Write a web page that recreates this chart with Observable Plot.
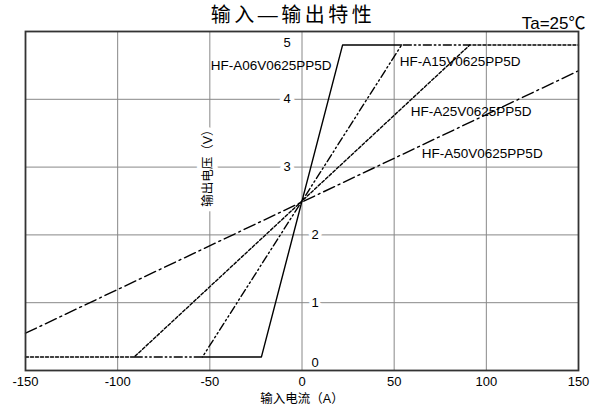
<!DOCTYPE html>
<html><head><meta charset="utf-8">
<script src="https://cdn.jsdelivr.net/npm/d3@7"></script>
<script src="https://cdn.jsdelivr.net/npm/@observablehq/plot@0.6"></script>
<style>body{margin:0;background:#fff}</style>
</head><body><div id="chart"></div>
<script>
const models = ["HF-A06V0625PP5D", "HF-A15V0625PP5D", "HF-A25V0625PP5D", "HF-A50V0625PP5D"];
const currentA06 = [-54, -22, 22, 54];
const voltA06 = [0.2, 0.2, 4.8, 4.8];
const currentA15 = [-91, -54, 54, 91];
const voltA15 = [0.2, 0.2, 4.8, 4.8];
const currentA25 = [-150, -91, 91, 150];
const voltA25 = [0.2, 0.2, 4.8, 4.8];
const currentA50 = [-150, 150];
const voltA50 = [0.55, 4.42];
const labelCurrent = [16, 53, 59, 65];
const labelVolt = [4.5, 4.55, 3.82, 3.2];
const xTicks = [-150, -100, -50, 0, 50, 100, 150];
const yTicks = [0, 1, 2, 3, 4, 5];
const xGrid = [-100, -50, 0, 50, 100];
const yGrid = [1, 2, 3, 4];
const title = "输入—输出特性";
const condition = "Ta=25℃";
const xTitle = "输入电流（A）";
const yTitle = "输出电压（V）";
const yTitleAt = {x: -51, y: 3.03};

const toRows = (xs, ys) => xs.map((x, i) => ({x, y: ys[i]}));
const sA06 = toRows(currentA06, voltA06);
const sA15 = toRows(currentA15, voltA15);
const sA25 = toRows(currentA25, voltA25);
const sA50 = toRows(currentA50, voltA50);
const labels = models.map((m, i) => ({name: m, x: labelCurrent[i], y: labelVolt[i]}));

const font = "'Liberation Sans', Arial, 'Noto Sans CJK SC', sans-serif";
const lineOpts = {x: "x", y: "y", stroke: "#000", strokeWidth: 1.4};

const chart = Plot.plot({
  width: 595,
  height: 410,
  marginLeft: 25,
  marginRight: 17,
  marginTop: 31,
  marginBottom: 40,
  style: {fontFamily: font, background: "#fff", color: "#000", overflow: "visible"},
  x: {domain: [-150, 150], axis: null},
  y: {domain: [0, 5], axis: null},
  marks: [
    Plot.ruleX(xGrid, {stroke: "#888", strokeWidth: 1}),
    Plot.ruleY(yGrid, {stroke: "#888", strokeWidth: 1}),
    Plot.axisX({ticks: xTicks, tickSize: 0, tickPadding: 6, fontSize: 13, label: null, tickFormat: d => String(d)}),
    Plot.text(yTicks.filter(v => v >= 1 && v <= 2), {x: () => 0, y: d => d, text: d => String(d), dx: 13, fontSize: 13, stroke: "#fff", strokeWidth: 8, fill: "#000"}),
    Plot.text(yTicks.filter(v => v >= 3 && v <= 4), {x: () => 0, y: d => d, text: d => String(d), dx: -15, fontSize: 13, stroke: "#fff", strokeWidth: 8, fill: "#000"}),
    Plot.text(yTicks.filter(v => v === 0), {x: () => 0, y: d => d, text: d => String(d), dx: 13, dy: -8, fontSize: 13, fill: "#000"}),
    Plot.text(yTicks.filter(v => v === 5), {x: () => 0, y: d => d, text: d => String(d), dx: -15, dy: 11, fontSize: 13, fill: "#000"}),
    Plot.text([yTitle], {x: () => yTitleAt.x, y: () => yTitleAt.y, text: d => d, rotate: -90, fontSize: 12.5, stroke: "#fff", strokeWidth: 10, fill: "#000"}),
    Plot.line(sA25, {...lineOpts, strokeDasharray: "3,2"}),
    Plot.line(sA15, {...lineOpts, strokeDasharray: "8,3,1.5,3,1.5,3"}),
    Plot.line(sA50, {...lineOpts, strokeDasharray: "12,4,2,4"}),
    Plot.line(sA06, {...lineOpts}),
    Plot.text(labels.slice(0, 1), {x: "x", y: "y", text: "name", textAnchor: "end", fontSize: 13.5, fill: "#000"}),
    Plot.text(labels.slice(1), {x: "x", y: "y", text: "name", textAnchor: "start", fontSize: 13.5, fill: "#000"}),
    Plot.text([xTitle], {x: () => 0, frameAnchor: "bottom", text: d => d, dy: 32, fontSize: 12.5, fill: "#000"}),
    Plot.text([title], {frameAnchor: "top", text: d => d, dx: -9, dy: -24, fontSize: 20, fill: "#000", className: "ttl"}),
    Plot.text([condition], {frameAnchor: "top-right", text: d => d, textAnchor: "end", dx: 7, dy: -15, fontSize: 17, fill: "#000"}),
    Plot.frame({stroke: "#333", strokeWidth: 1.8})
  ]
});
document.getElementById("chart").appendChild(chart);
d3.select(chart).selectAll("g.ttl text").style("letter-spacing", "3.5px");
</script>
</body></html>
